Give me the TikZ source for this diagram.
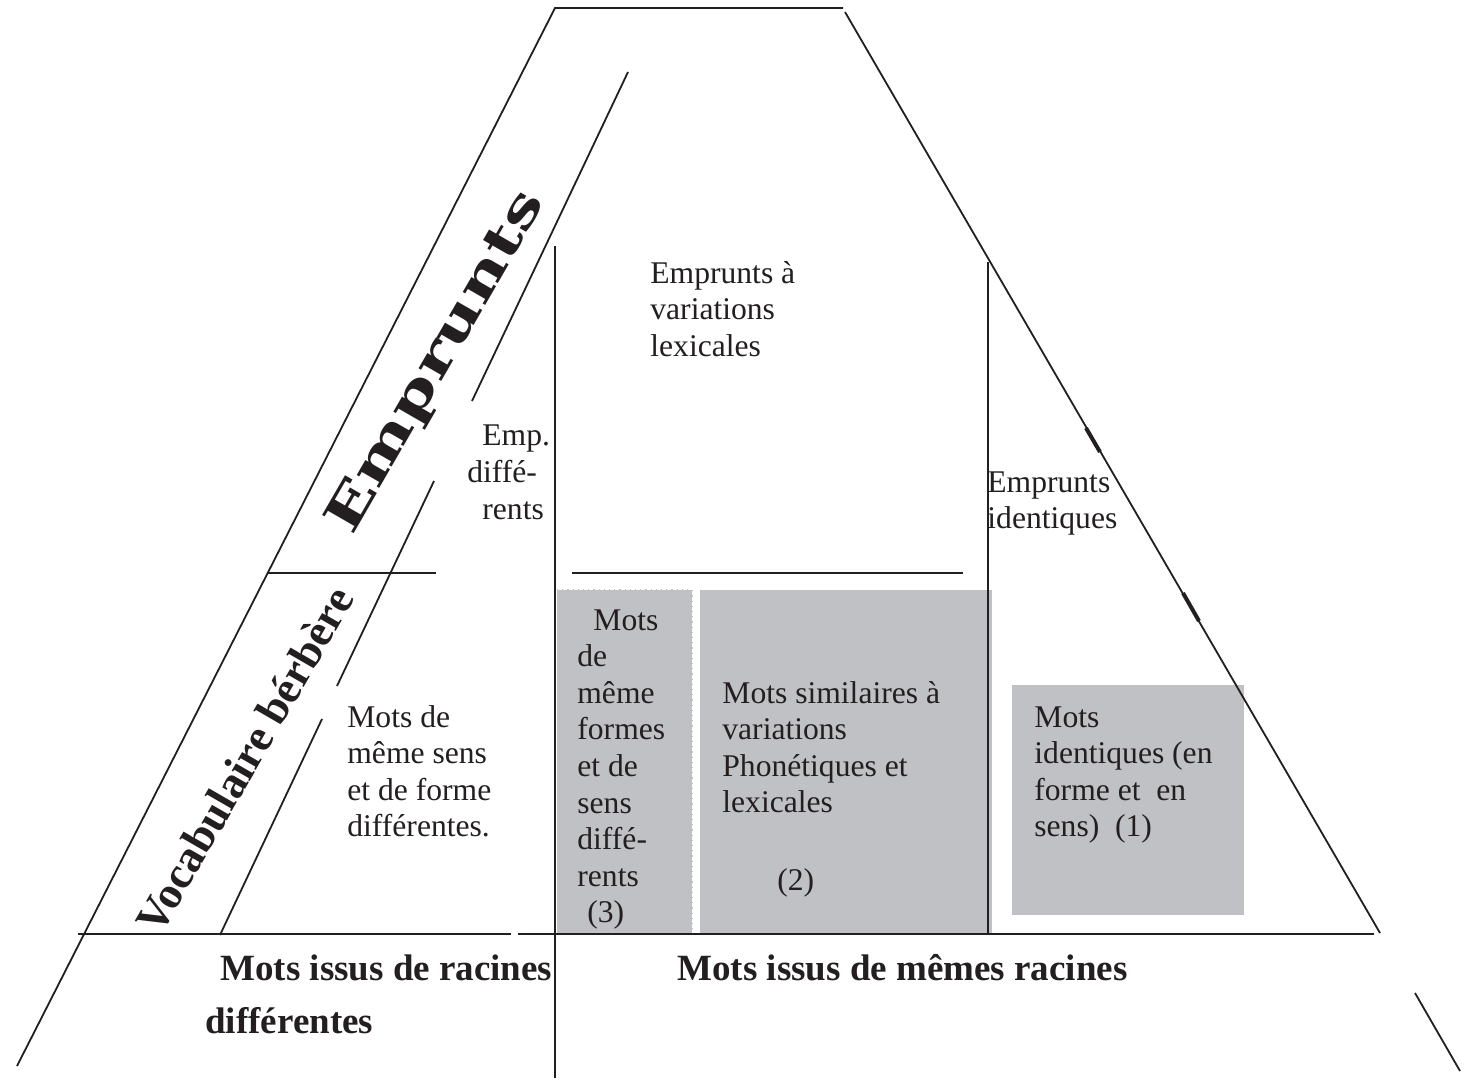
\documentclass[tikz,border=0pt]{standalone}
\usepackage{fontspec}
\setmainfont{Liberation Serif}
\newfontfamily\empfont{DejaVu Serif}
\usepackage{graphicx}
\definecolor{ink}{HTML}{231F20}
\definecolor{boxgray}{HTML}{C0C1C5}
\newcommand\stk[1]{\begin{tabular}[t]{@{}l@{}}#1\end{tabular}}
\begin{document}
\begin{tikzpicture}[x=0.5pt,y=-0.5pt,
  ln/.style={draw=ink,line width=0.9pt},
  tick/.style={draw=ink,line width=2pt},
  txt/.style={inner sep=0pt,anchor=base west,text=ink,font=\fontsize{15.8}{18.3}\selectfont},
  boldtxt/.style={inner sep=0pt,anchor=base west,text=ink,font=\fontsize{18.5}{22}\selectfont\bfseries},
  gbox/.style={fill=boxgray}]
\useasboundingbox[fill=white] (0,0) rectangle (1471,1081);

% grey boxes
\fill[gbox] (557,590) rectangle (692,933);
\draw[gray!50,dotted,line width=0.6pt] (557,590) -- (692,590) -- (692,933);
\fill[gbox] (700,590) rectangle (992,933);
\fill[gbox] (1012,685) rectangle (1244,915);

% outer frame
\draw[ln] (17,1066) -- (555,8) -- (843,8);
\draw[ln] (845,12) -- (1380,933);
\draw[ln] (1415,993) -- (1460,1071);
\draw[tick] (1086,428) -- (1100,452);
\draw[tick] (1183,593) -- (1199,621);

% inner slanted line (with gaps)
\draw[ln] (628,72) -- (472,401);
\draw[ln] (434,481) -- (337,686);
\draw[ln] (322,719) -- (220,935);

% horizontal separators
\draw[ln] (268,573) -- (436,573);
\draw[ln] (572,573) -- (963,573);
\draw[ln] (78,934) -- (511,934);
\draw[ln] (518,934) -- (1374,934);

% vertical separators
\draw[ln] (555,246) -- (555,1078);
\draw[ln] (988,262) -- (988,935);

% rotated titles
\node[inner sep=0pt,anchor=base west,rotate=60,text=ink,font=\empfont\bfseries\fontsize{25}{29}\selectfont]
  (emprunts) at (352,537) {\scalebox{1.4}[1]{Emprunts}};
\node[inner sep=0pt,anchor=base west,rotate=60,text=ink,font=\bfseries\fontsize{22.5}{27}\selectfont]
  (vocab) at (160,937) {Vocabulaire bérbère};

% texts
\node[txt] (var) at (650,283) {\stk{Emprunts à\\variations\\lexicales}};
\node[txt] (empa) at (482,445) {Emp.};
\node[txt] (empb) at (467,482) {diffé-};
\node[txt] (empc) at (482,519) {rents};
\node[txt] (ident) at (987,492) {\stk{Emprunts\\identiques}};
\node[txt] (diff) at (347,727) {\stk{Mots de\\même sens\\et de forme\\différentes.}};
\node[txt] (b3) at (577,630) {\stk{\hspace*{8pt}Mots\\de\\même\\formes\\et de\\sens\\diffé-\\rents\\\hspace*{5pt}(3)}};
\node[txt] (b2) at (722,703) {\stk{Mots similaires à\\variations\\Phonétiques et\\lexicales}};
\node[txt] (b2n) at (777,890) {(2)};
\node[txt] (b1) at (1034,727) {\stk{Mots\\identiques (en\\forme et~ en\\sens)~ (1)}};

% bottom labels
\node[boldtxt] (rdiff) at (220,980) {Mots issus de racines};
\node[boldtxt] (rdiff2) at (205,1033) {différentes};
\node[boldtxt] (rsame) at (677,980) {Mots issus de mêmes racines};
\end{tikzpicture}
\end{document}
